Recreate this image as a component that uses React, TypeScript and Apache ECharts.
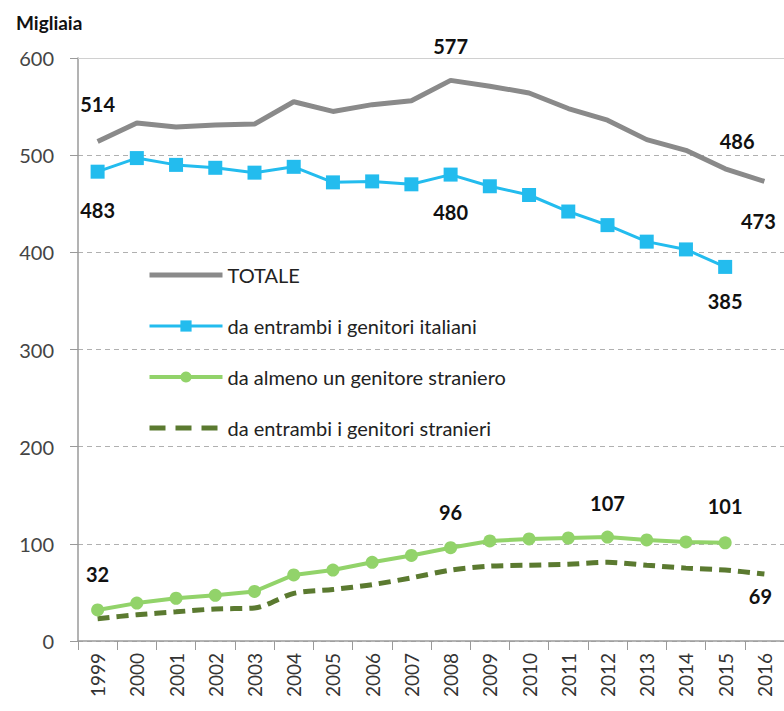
import React, { useEffect, useRef } from "react";
import * as echarts from "echarts";

const years = ["1999","2000","2001","2002","2003","2004","2005","2006","2007","2008","2009","2010","2011","2012","2013","2014","2015","2016"];
const totale = [514, 533, 529, 531, 532, 555, 545, 552, 556, 577, 571, 564, 548, 536, 516, 505, 486, 473];
const italiani = [483, 497, 490, 487, 482, 488, 472, 473, 470, 480, 468, 459, 442, 428, 411, 403, 385, null];
const almenoUno = [32, 39, 44, 47, 51, 68, 73, 81, 88, 96, 103, 105, 106, 107, 104, 102, 101, null];
const entrambiStr = [23, 27, 30, 33, 34, 49, 53, 58, 65, 73, 77, 78, 79, 81, 78, 75, 73, 69];

const names = [
  "TOTALE",
  "da entrambi i genitori italiani",
  "da almeno un genitore straniero",
  "da entrambi i genitori stranieri",
];

// labelled points: [index, position, distance]
const totaleLabels: [number, string, number][] = [[0, "top", 28], [9, "top", 24], [16, "top", 18], [17, "bottom", 30]];
const italianiLabels: [number, string, number][] = [[0, "bottom", 21], [9, "bottom", 20], [16, "bottom", 17]];
const almenoLabels: [number, string, number][] = [[0, "top", 19], [9, "top", 19], [13, "top", 18], [16, "top", 20]];
const entrambiLabels: [number, string, number][] = [[17, "bottom", 12]];

const FONT = "Lato, 'Noto Sans', sans-serif";

function withLabels(values: (number | null)[], labels: [number, string, number][], dx: number[] = [], hidden = false) {
  return values.map((v, i) => {
    const l = labels.find((x) => x[0] === i);
    if (!l) return v;
    const k = labels.indexOf(l);
    const item: any = {
      value: v,
      label: {
        show: true,
        position: l[1],
        distance: l[2],
        offset: [dx[k] || 0, 0],
        formatter: String(v),
        fontFamily: FONT,
        fontWeight: "bold",
        fontSize: 20,
        color: "#111",
      },
    };
    if (hidden) {
      item.symbol = "circle";
      item.symbolSize = 0;
    }
    return item;
  });
}

export default function App() {
  const ref = useRef<HTMLDivElement>(null);
  useEffect(() => {
    const chart = echarts.init(ref.current!, undefined, { renderer: "svg" });
    chart.setOption({
      animation: false,
      backgroundColor: "#fff",
      textStyle: { fontFamily: FONT },
      title: {
        text: "Migliaia",
        left: 11,
        top: 8,
        textStyle: { fontFamily: FONT, fontWeight: "bold", fontSize: 19, color: "#111" },
      },
      legend: {
        orient: "vertical",
        left: 142,
        top: 258,
        itemWidth: 73,
        itemHeight: 14,
        itemGap: 27,
        data: [
          { name: names[0], itemStyle: { opacity: 0 }, lineStyle: { width: 5 } },
          { name: names[1], lineStyle: { width: 3 } },
          { name: names[2], lineStyle: { width: 4 } },
          { name: names[3], itemStyle: { opacity: 0 }, lineStyle: { width: 5, type: [16, 10] } },
        ],
        textStyle: { fontFamily: FONT, fontSize: 20, color: "#222", lineHeight: 24 },
      },
      grid: { left: 78, top: 58, width: 709, bottom: 70 },
      xAxis: [
        {
          type: "category",
          data: years,
          boundaryGap: true,
          axisLine: { lineStyle: { color: "#9a9a9a", width: 1.5 } },
          axisTick: { show: true, length: 9, interval: 0, lineStyle: { color: "#9a9a9a" } },
          axisLabel: { rotate: 90, interval: 0, fontSize: 19, color: "#333", fontFamily: FONT, margin: 12 },
        },
        {
          type: "category",
          data: years,
          position: "top",
          axisLine: { show: true, lineStyle: { color: "#d0d0d0" } },
          axisTick: { show: false },
          axisLabel: { show: false },
        },
      ],
      yAxis: {
        type: "value",
        min: 0,
        max: 600,
        interval: 100,
        axisLine: { show: true, lineStyle: { color: "#9a9a9a", width: 1.5 } },
        axisTick: { show: true, length: 8, lineStyle: { color: "#9a9a9a" } },
        axisLabel: { fontSize: 20, color: "#444", fontFamily: FONT, margin: 24 },
        splitLine: { show: true, lineStyle: { color: "#b0b0b0", type: [5, 4] } },
      },
      series: [
        {
          name: names[0],
          type: "line",
          data: withLabels(totale, totaleLabels, [0, 0, 12, -6], true),
          symbol: "none",
          lineStyle: { color: "#8a8a8a", width: 5 },
          itemStyle: { color: "#8a8a8a" },
        },
        {
          name: names[1],
          type: "line",
          data: withLabels(italiani, italianiLabels),
          symbol: "rect",
          symbolSize: 14,
          lineStyle: { color: "#23bcee", width: 3 },
          itemStyle: { color: "#23bcee" },
        },
        {
          name: names[2],
          type: "line",
          data: withLabels(almenoUno, almenoLabels),
          symbol: "circle",
          symbolSize: 13,
          lineStyle: { color: "#92d36a", width: 4 },
          itemStyle: { color: "#92d36a" },
        },
        {
          name: names[3],
          type: "line",
          data: withLabels(entrambiStr, entrambiLabels, [-4], true),
          symbol: "none",
          smooth: 0.3,
          lineStyle: { color: "#5b7a30", width: 5, type: [12, 7] },
          itemStyle: { color: "#5b7a30" },
        },
      ],
    });
    return () => chart.dispose();
  }, []);
  return <div ref={ref} style={{ width: 784, height: 711, position: "absolute", left: 0, top: 0 }} />;
}
